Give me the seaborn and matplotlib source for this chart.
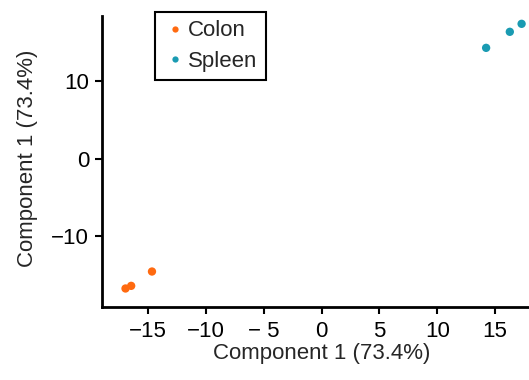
import matplotlib
matplotlib.use("Agg")
import matplotlib.pyplot as plt
import seaborn as sns
import pandas as pd

# ---- data ----
tissue = ["Colon", "Colon", "Colon", "Spleen", "Spleen", "Spleen"]
comp_x = [-16.97, -16.48, -14.68, 14.23, 16.28, 17.30]
comp_y = [-16.77, -16.43, -14.58, 14.28, 16.35, 17.38]
palette = {"Colon": "#FF6A10", "Spleen": "#1A9BB2"}
x_ticks = [-15, -10, -5, 0, 5, 10, 15]
x_tick_labels = ["\u221215", "\u221210", "\u2212 5", "0", "5", "10", "15"]
y_ticks = [-10, 0, 10]
y_tick_labels = ["\u221210", "0", "10"]
x_label = "Component 1 (73.4%)"
y_label = "Component 1 (73.4%)"

df = pd.DataFrame({"x": comp_x, "y": comp_y, "tissue": tissue})

sns.set_style("ticks")
plt.rcParams["font.family"] = ["Liberation Sans", "DejaVu Sans"]

W, H = 529, 380
fig = plt.figure(figsize=(W / 100, H / 100), dpi=100)
ax = fig.add_axes([101.7 / W, (H - 306.7) / H, (W - 101.7) / W, (306.7 - 16) / H])

sns.scatterplot(data=df, x="x", y="y", hue="tissue", palette=palette,
                s=36, linewidth=0, ax=ax, legend=True)

ax.set_xlim(-19.03, 17.94)
ax.set_ylim(-19.12, 18.39)
ax.set_xticks(x_ticks)
ax.set_xticklabels(x_tick_labels)
ax.set_yticks(y_ticks)
ax.set_yticklabels(y_tick_labels)
ax.tick_params(axis="both", labelsize=16, length=5, width=1.5, color="black",
               labelcolor="black", pad=4)
ax.tick_params(axis="x", pad=5)
for side in ["top", "right"]:
    ax.spines[side].set_visible(False)
for side in ["left", "bottom"]:
    ax.spines[side].set_linewidth(2)
    ax.spines[side].set_color("black")

ax.set_xlabel("")
ax.set_ylabel("")
fig.text(322 / W, 1 - 354 / H, x_label, ha="center", va="center", fontsize=16)
fig.text(28 / W, 1 - 158 / H, y_label, ha="center", va="center", fontsize=16,
         rotation=90)

handles, labels = ax.get_legend_handles_labels()
ax.legend(handles, labels, loc="upper left",
          bbox_to_anchor=(155 / W, 1 - 12 / H), bbox_transform=fig.transFigure,
          frameon=True, fancybox=False, edgecolor="black", framealpha=1,
          fontsize=16, markerscale=0.75, handletextpad=0.1, handlelength=1.0,
          borderpad=0.38, labelspacing=0.42, borderaxespad=0)
ax.get_legend().get_frame().set_linewidth(1.5)

fig.savefig("out.png", dpi=100)
